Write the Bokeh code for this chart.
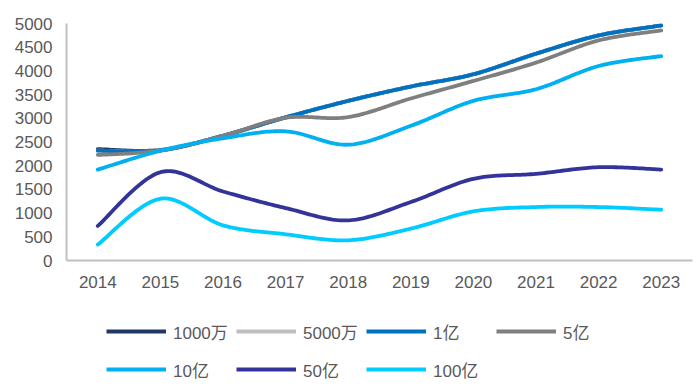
from bokeh.plotting import figure
from bokeh.models import Legend, LegendItem, FixedTicker, Range1d
from bokeh.layouts import column
from bokeh.embed import file_html
from bokeh.resources import INLINE

years = ["2014", "2015", "2016", "2017", "2018", "2019", "2020", "2021", "2022", "2023"]
y_ticks = [0, 500, 1000, 1500, 2000, 2500, 3000, 3500, 4000, 4500, 5000]

s_1000w = [2350, 2330, 2632, 3019, 3368, 3670, 3929, 4363, 4748, 4958]
s_5000w = [2317, 2320, 2632, 3019, 3368, 3670, 3929, 4363, 4748, 4958]
s_1y = [2317, 2320, 2632, 3019, 3368, 3670, 3929, 4363, 4748, 4958]
s_5y = [2227, 2320, 2630, 3010, 3025, 3418, 3788, 4174, 4643, 4853]
s_10y = [1918, 2317, 2578, 2725, 2443, 2842, 3368, 3613, 4103, 4313]
s_50y = [729, 1863, 1456, 1107, 847, 1233, 1723, 1828, 1968, 1918]
s_100y = [336, 1303, 742, 553, 426, 672, 1036, 1128, 1128, 1071]

names = ["1000万", "5000万", "1亿", "5亿", "10亿", "50亿", "100亿"]
series = [s_1000w, s_5000w, s_1y, s_5y, s_10y, s_50y, s_100y]
colors = ["#1F3864", "#BFBFBF", "#0070C0", "#7F7F7F", "#00B0F0", "#333399", "#00CCFF"]

FONT = "'Liberation Sans', 'Noto Sans CJK SC'"
LW = 3.8
NCOLS = 4


def smooth(xs, ys, n=24):
    """Excel-like smoothed line (Catmull-Rom Bezier) through the data points."""
    px, py = [], []
    m = len(xs)
    for i in range(m - 1):
        x0, y0 = (xs[i - 1], ys[i - 1]) if i > 0 else (xs[i], ys[i])
        x1, y1 = xs[i], ys[i]
        x2, y2 = xs[i + 1], ys[i + 1]
        x3, y3 = (xs[i + 2], ys[i + 2]) if i + 2 < m else (xs[i + 1], ys[i + 1])
        c1x, c1y = x1 + (x2 - x0) / 6, y1 + (y2 - y0) / 6
        c2x, c2y = x2 - (x3 - x1) / 6, y2 - (y3 - y1) / 6
        for k in range(n + (1 if i == m - 2 else 0)):
            t = k / n
            a, b, c, d = (1 - t) ** 3, 3 * (1 - t) ** 2 * t, 3 * (1 - t) * t ** 2, t ** 3
            px.append(a * x1 + b * c1x + c * c2x + d * x2)
            py.append(a * y1 + b * c1y + c * c2y + d * y2)
    return px, py


p = figure(width=694, height=300, output_backend="svg", toolbar_location=None,
           x_range=Range1d(-0.5, len(years) - 0.5), y_range=Range1d(0, 5000),
           min_border_left=66, min_border_right=2, min_border_top=23, min_border_bottom=40)
p.outline_line_color = None
p.xgrid.visible = False
p.ygrid.visible = False

xs = list(range(len(years)))
curves = []
for vals, col in zip(series, colors):
    sx, sy = smooth(xs, vals)
    curves.append((sx, sy))
    p.line(sx, sy, line_color=col, line_width=LW, line_cap="round", line_join="round")

p.xaxis.ticker = FixedTicker(ticks=xs)
p.xaxis.major_label_overrides = {i: y for i, y in enumerate(years)}
p.yaxis.ticker = FixedTicker(ticks=y_ticks)
for ax in (p.xaxis[0], p.yaxis[0]):
    ax.axis_line_color = "#BFBFBF"
    ax.axis_line_width = 2
    ax.major_tick_line_color = None
    ax.minor_tick_line_color = None
    ax.major_tick_out = 0
    ax.major_tick_in = 0
    ax.major_label_text_color = "#595959"
    ax.major_label_text_font = FONT
    ax.major_label_text_font_size = "17px"
p.yaxis.major_label_standoff = 14
p.xaxis.major_label_standoff = 15

# legend strip: its own figure so the legend is not clipped by the chart frame.
# The same series are drawn there but lie entirely outside its (0..1) view.
lg = figure(width=694, height=84, output_backend="svg", toolbar_location=None,
            x_range=Range1d(0, 1), y_range=Range1d(0, 1),
            x_axis_location=None, y_axis_location=None,
            min_border_left=0, min_border_right=0, min_border_top=0, min_border_bottom=0)
lg.outline_line_color = None
lg.xgrid.visible = False
lg.ygrid.visible = False
items = []
for name, col, (sx, sy) in zip(names, colors, curves):
    r = lg.line(sx, sy, line_color=col, line_width=LW)
    items.append(LegendItem(label=name, renderers=[r]))

# legend fills column-major; reorder so entries read row by row
nrows = -(-len(items) // NCOLS)
ordered = []
for c in range(NCOLS):
    for rr in range(nrows):
        k = rr * NCOLS + c
        if k < len(items):
            ordered.append(items[k])

legend = Legend(items=ordered, location=(40, -4), ncols=NCOLS,
                glyph_width=60, glyph_height=38, label_height=38, label_width=63,
                label_standoff=7, spacing=0, padding=0, margin=0,
                border_line_color=None, background_fill_alpha=0,
                label_text_font=FONT, label_text_font_size="17px",
                label_text_color="#595959")
lg.add_layout(legend, "center")

layout = column(p, lg, spacing=0)
open("out.html", "w").write(file_html(layout, INLINE))
